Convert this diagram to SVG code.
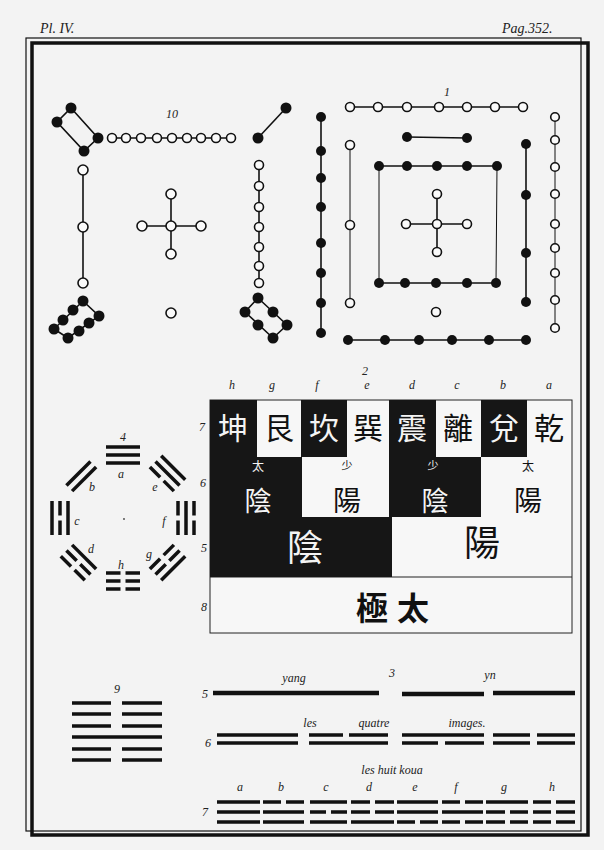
<svg xmlns="http://www.w3.org/2000/svg" width="604" height="850" viewBox="0 0 604 850">
<style>
.w{fill:#fafafa;stroke:#111;stroke-width:1.6}
.b{fill:#111}
.ln{stroke:#111;stroke-width:1.6;fill:none}
.lt{stroke:#111;stroke-width:1;fill:none}
.lab{font-family:"Liberation Serif",serif;font-style:italic;font-size:12px;fill:#222;text-anchor:middle}
.hdr{font-family:"Liberation Serif",serif;font-style:italic;font-size:14px;fill:#222}
.bar{stroke:#111;stroke-width:3.5}
.cw{font-family:"Noto Sans CJK TC","Noto Sans CJK SC",sans-serif;fill:#f4f4f4;text-anchor:middle}
.ck{font-family:"Noto Sans CJK TC","Noto Sans CJK SC",sans-serif;fill:#111;text-anchor:middle}
.cell{fill:#161616}
</style>
<defs>
<g id="tri-l"><line x1="-17" y1="0" x2="17" y2="0" class="bar"/></g>
<g id="tri-b"><line x1="-17" y1="0" x2="-2.5" y2="0" class="bar"/><line x1="2.5" y1="0" x2="17" y2="0" class="bar"/></g>
</defs>
<rect x="0" y="0" width="604" height="850" fill="#f3f3f3"/>
<text class="hdr" x="40" y="33">Pl. IV.</text>
<text class="hdr" x="502" y="33">Pag.352.</text>
<g id="frame">
<rect x="26" y="38" width="555" height="793" fill="none" stroke="#111" stroke-width="1.2"/>
<rect x="32" y="43" width="556" height="792" fill="none" stroke="#111" stroke-width="3.5"/>
</g>

<!-- Figure 10 -->
<g id="fig10">
<text class="lab" x="172" y="118">10</text>
<g id="f10-tl">
<polygon points="71,108 98,138 84,151 57,122" class="ln" stroke-width="2"/>
<circle cx="71" cy="108" r="5.5" class="b"/><circle cx="98" cy="138" r="5.5" class="b"/>
<circle cx="84" cy="151" r="5.5" class="b"/><circle cx="57" cy="122" r="5.5" class="b"/>
</g>
<g id="f10-top">
<line x1="112" y1="138" x2="231" y2="138" class="ln"/>
<circle cx="112" cy="138" r="4.5" class="w"/><circle cx="126" cy="138" r="4.5" class="w"/><circle cx="141" cy="138" r="4.5" class="w"/>
<circle cx="157" cy="138" r="4.5" class="w"/><circle cx="172" cy="138" r="4.5" class="w"/><circle cx="187" cy="138" r="4.5" class="w"/>
<circle cx="201" cy="138" r="4.5" class="w"/><circle cx="216" cy="138" r="4.5" class="w"/><circle cx="231" cy="138" r="4.5" class="w"/>
</g>
<g id="f10-tr">
<line x1="258" y1="138" x2="286" y2="108" class="ln" stroke-width="2"/>
<circle cx="258" cy="138" r="5.5" class="b"/><circle cx="286" cy="108" r="5.5" class="b"/>
</g>
<g id="f10-left">
<line x1="83" y1="170" x2="83" y2="283" class="ln"/>
<circle cx="83" cy="170" r="5" class="w"/><circle cx="83" cy="227" r="5" class="w"/><circle cx="83" cy="283" r="5" class="w"/>
</g>
<g id="f10-center">
<line x1="142" y1="226" x2="201" y2="226" class="ln"/><line x1="171" y1="194" x2="171" y2="254" class="ln"/>
<circle cx="171" cy="226" r="5" class="w"/><circle cx="171" cy="194" r="5" class="w"/><circle cx="171" cy="254" r="5" class="w"/>
<circle cx="142" cy="226" r="5" class="w"/><circle cx="201" cy="226" r="5" class="w"/>
</g>
<g id="f10-bottom"><circle cx="171" cy="313" r="5" class="w"/></g>
<g id="f10-right">
<line x1="259" y1="165" x2="259" y2="283" class="ln"/>
<circle cx="259" cy="165" r="4.5" class="w"/><circle cx="259" cy="186" r="4.5" class="w"/><circle cx="259" cy="207" r="4.5" class="w"/>
<circle cx="259" cy="227" r="4.5" class="w"/><circle cx="259" cy="247" r="4.5" class="w"/><circle cx="259" cy="266" r="4.5" class="w"/>
<circle cx="259" cy="283" r="4.5" class="w"/>
</g>
<g id="f10-bl">
<polygon points="83,301 99,316 68,338 54,329" class="ln" stroke-width="2"/>
<circle cx="83" cy="301" r="5.5" class="b"/><circle cx="73" cy="310" r="5.5" class="b"/><circle cx="63" cy="320" r="5.5" class="b"/><circle cx="54" cy="329" r="5.5" class="b"/>
<circle cx="99" cy="316" r="5.5" class="b"/><circle cx="89" cy="323" r="5.5" class="b"/><circle cx="79" cy="331" r="5.5" class="b"/><circle cx="68" cy="338" r="5.5" class="b"/>
</g>
<g id="f10-br">
<polygon points="258,298 287,325 273,338 245,312" class="ln" stroke-width="2"/>
<circle cx="258" cy="298" r="5.5" class="b"/><circle cx="273" cy="312" r="5.5" class="b"/><circle cx="287" cy="325" r="5.5" class="b"/>
<circle cx="273" cy="338" r="5.5" class="b"/><circle cx="258" cy="325" r="5.5" class="b"/><circle cx="245" cy="312" r="5.5" class="b"/>
</g>
</g>

<!-- Figure 1 -->
<g id="fig1">
<text class="lab" x="447" y="96">1</text>
<g id="f1-top">
<line x1="350" y1="107" x2="523" y2="107" class="ln"/>
<circle cx="350" cy="107" r="4.5" class="w"/><circle cx="378" cy="107" r="4.5" class="w"/><circle cx="407" cy="107" r="4.5" class="w"/>
<circle cx="439" cy="107" r="4.5" class="w"/><circle cx="467" cy="107" r="4.5" class="w"/><circle cx="495" cy="107" r="4.5" class="w"/>
<circle cx="523" cy="107" r="4.5" class="w"/>
</g>
<g id="f1-left">
<line x1="321" y1="117" x2="321" y2="333" class="ln" stroke-width="2"/>
<circle cx="321" cy="117" r="5" class="b"/><circle cx="321" cy="151" r="5" class="b"/><circle cx="321" cy="178" r="5" class="b"/>
<circle cx="321" cy="207" r="5" class="b"/><circle cx="321" cy="243" r="5" class="b"/><circle cx="321" cy="273" r="5" class="b"/>
<circle cx="321" cy="303" r="5" class="b"/><circle cx="321" cy="333" r="5" class="b"/>
</g>
<g id="f1-left2">
<line x1="350" y1="145" x2="350" y2="303" class="lt"/>
<circle cx="350" cy="145" r="4.5" class="w"/><circle cx="350" cy="225" r="4.5" class="w"/><circle cx="350" cy="303" r="4.5" class="w"/>
</g>
<g id="f1-pair">
<line x1="407" y1="137" x2="467" y2="138" class="ln" stroke-width="2"/>
<circle cx="407" cy="137" r="5" class="b"/><circle cx="467" cy="138" r="5" class="b"/>
</g>
<g id="f1-square">
<line x1="379" y1="166" x2="497" y2="166" class="ln" stroke-width="2"/>
<line x1="379" y1="283" x2="496" y2="283" class="ln" stroke-width="2"/>
<line x1="379" y1="166" x2="379" y2="283" class="lt"/>
<line x1="497" y1="166" x2="496" y2="283" class="lt"/>
<circle cx="379" cy="166" r="5" class="b"/><circle cx="407" cy="166" r="5" class="b"/><circle cx="437" cy="166" r="5" class="b"/>
<circle cx="467" cy="166" r="5" class="b"/><circle cx="497" cy="166" r="5" class="b"/>
<circle cx="379" cy="283" r="5" class="b"/><circle cx="405" cy="283" r="5" class="b"/><circle cx="436" cy="283" r="5" class="b"/>
<circle cx="467" cy="283" r="5" class="b"/><circle cx="496" cy="283" r="5" class="b"/>
</g>
<g id="f1-center">
<line x1="406" y1="224" x2="467" y2="224" class="ln"/><line x1="437" y1="194" x2="437" y2="252" class="ln"/>
<circle cx="437" cy="224" r="4.5" class="w"/><circle cx="437" cy="194" r="4.5" class="w"/><circle cx="437" cy="252" r="4.5" class="w"/>
<circle cx="406" cy="224" r="4.5" class="w"/><circle cx="467" cy="224" r="4.5" class="w"/>
</g>
<g id="f1-bottomdot"><circle cx="436" cy="312" r="4.5" class="w"/></g>
<g id="f1-right">
<line x1="526" y1="144" x2="526" y2="302" class="ln" stroke-width="2"/>
<circle cx="526" cy="144" r="5" class="b"/><circle cx="526" cy="195" r="5" class="b"/><circle cx="526" cy="253" r="5" class="b"/><circle cx="526" cy="302" r="5" class="b"/>
</g>
<g id="f1-right2">
<line x1="555" y1="117" x2="555" y2="328" class="lt"/>
<circle cx="555" cy="117" r="4.3" class="w"/><circle cx="555" cy="140" r="4.3" class="w"/><circle cx="555" cy="167" r="4.3" class="w"/>
<circle cx="555" cy="194" r="4.3" class="w"/><circle cx="555" cy="224" r="4.3" class="w"/><circle cx="555" cy="248" r="4.3" class="w"/>
<circle cx="555" cy="273" r="4.3" class="w"/><circle cx="555" cy="300" r="4.3" class="w"/><circle cx="555" cy="328" r="4.3" class="w"/>
</g>
<g id="f1-bottom">
<line x1="348" y1="340" x2="526" y2="340" class="ln" stroke-width="2"/>
<circle cx="348" cy="340" r="5" class="b"/><circle cx="385" cy="340" r="5" class="b"/><circle cx="419" cy="340" r="5" class="b"/>
<circle cx="452" cy="340" r="5" class="b"/><circle cx="489" cy="340" r="5" class="b"/><circle cx="526" cy="340" r="5" class="b"/>
</g>
</g>

<!-- Figure 2: table -->
<g id="fig2">
<text class="lab" x="365" y="375" font-size="9">2</text>
<g id="col-letters">
<text class="lab" x="232" y="389">h</text><text class="lab" x="272" y="389">g</text><text class="lab" x="317" y="389">f</text>
<text class="lab" x="367" y="389">e</text><text class="lab" x="412" y="389">d</text><text class="lab" x="457" y="389">c</text>
<text class="lab" x="503" y="389">b</text><text class="lab" x="549" y="389">a</text>
</g>
<g id="row-labels">
<text class="lab" x="202" y="431">7</text><text class="lab" x="203" y="487">6</text>
<text class="lab" x="204" y="552">5</text><text class="lab" x="204" y="611">8</text>
</g>
<rect x="210" y="400" width="362" height="233" fill="#f7f7f7" stroke="#222" stroke-width="1"/>
<line x1="210" y1="577" x2="572" y2="577" stroke="#222" stroke-width="1.2"/>
<g id="row7">
<rect x="210" y="400" width="47" height="57" class="cell"/>
<rect x="301" y="400" width="46" height="57" class="cell"/>
<rect x="389" y="400" width="47" height="57" class="cell"/>
<rect x="481" y="400" width="46" height="57" class="cell"/>
<text class="cw" x="233" y="439" font-size="30">坤</text>
<text class="ck" x="279" y="439" font-size="30">艮</text>
<text class="cw" x="324" y="439" font-size="30">坎</text>
<text class="ck" x="368" y="439" font-size="30">巽</text>
<text class="cw" x="412" y="439" font-size="30">震</text>
<text class="ck" x="458" y="439" font-size="30">離</text>
<text class="cw" x="504" y="439" font-size="30">兌</text>
<text class="ck" x="549" y="439" font-size="30">乾</text>
</g>
<g id="row6">
<rect x="210" y="457" width="92" height="60" class="cell"/>
<rect x="389" y="457" width="92" height="60" class="cell"/>
<text class="cw" x="258" y="471" font-size="12">太</text>
<text class="cw" x="258" y="511" font-size="27">陰</text>
<text class="ck" x="347" y="470" font-size="11">少</text>
<text class="ck" x="347" y="511" font-size="28">陽</text>
<text class="cw" x="433" y="470" font-size="11">少</text>
<text class="cw" x="435" y="511" font-size="27">陰</text>
<text class="ck" x="528" y="471" font-size="12">太</text>
<text class="ck" x="528" y="511" font-size="28">陽</text>
</g>
<g id="row5">
<rect x="210" y="517" width="182" height="60" class="cell"/>
<text class="cw" x="305" y="561" font-size="36">陰</text>
<text class="ck" x="482" y="556" font-size="36">陽</text>
</g>
<g id="row8">
<text class="ck" x="372" y="620" font-size="32" font-weight="bold">極</text>
<text class="ck" x="413" y="620" font-size="32" font-weight="bold">太</text>
</g>
</g>

<!-- Figure 4: circle of trigrams -->
<g id="fig4">
<text class="lab" x="123" y="441">4</text>
<circle cx="124" cy="519" r="0.9" fill="#444"/>
<g id="tri-a"><use href="#tri-l" x="123" y="447"/><use href="#tri-l" x="123" y="455"/><use href="#tri-l" x="123" y="463"/></g>
<g id="tri-e" transform="rotate(45 123 518)"><use href="#tri-l" x="123" y="447"/><use href="#tri-l" x="123" y="455"/><use href="#tri-b" x="123" y="463"/></g>
<g id="tri-f" transform="rotate(90 123 518)"><use href="#tri-b" x="123" y="447"/><use href="#tri-l" x="123" y="455"/><use href="#tri-b" x="123" y="463"/></g>
<g id="tri-g" transform="rotate(135 123 518)"><use href="#tri-l" x="123" y="447"/><use href="#tri-b" x="123" y="455"/><use href="#tri-b" x="123" y="463"/></g>
<g id="tri-h" transform="rotate(180 123 518)"><use href="#tri-b" x="123" y="447"/><use href="#tri-b" x="123" y="455"/><use href="#tri-b" x="123" y="463"/></g>
<g id="tri-d" transform="rotate(225 123 518)"><use href="#tri-b" x="123" y="447"/><use href="#tri-b" x="123" y="455"/><use href="#tri-l" x="123" y="463"/></g>
<g id="tri-c" transform="rotate(270 123 518)"><use href="#tri-l" x="123" y="447"/><use href="#tri-b" x="123" y="455"/><use href="#tri-l" x="123" y="463"/></g>
<g id="tri-b" transform="rotate(315 123 518)"><use href="#tri-b" x="123" y="447"/><use href="#tri-l" x="123" y="455"/><use href="#tri-l" x="123" y="463"/></g>
<text class="lab" x="121" y="478">a</text><text class="lab" x="92" y="491">b</text><text class="lab" x="155" y="491">e</text>
<text class="lab" x="77" y="525">c</text><text class="lab" x="164" y="525">f</text>
<text class="lab" x="91" y="553">d</text><text class="lab" x="121" y="569">h</text><text class="lab" x="149" y="558">g</text>
</g>

<!-- Figure 9: hexagram -->
<g id="fig9">
<text class="lab" x="117" y="693">9</text>
<g class="bar">
<line x1="72" y1="703" x2="111" y2="703"/><line x1="122" y1="703" x2="162" y2="703"/>
<line x1="72" y1="714" x2="111" y2="714"/><line x1="122" y1="714" x2="162" y2="714"/>
<line x1="72" y1="726" x2="111" y2="726"/><line x1="122" y1="726" x2="162" y2="726"/>
<line x1="72" y1="737" x2="162" y2="737"/>
<line x1="72" y1="749" x2="111" y2="749"/><line x1="122" y1="749" x2="162" y2="749"/>
<line x1="72" y1="760" x2="111" y2="760"/><line x1="122" y1="760" x2="162" y2="760"/>
</g>
</g>

<!-- Figure 3 -->
<g id="fig3">
<text class="lab" x="392" y="677">3</text>
<g id="f3-row5">
<text class="lab" x="205" y="698">5</text>
<text class="lab" x="294" y="682">yang</text>
<text class="lab" x="490" y="679">yn</text>
<g stroke="#111" stroke-width="4.5">
<line x1="213" y1="693" x2="379" y2="693"/>
<line x1="402" y1="694" x2="484" y2="694"/><line x1="493" y1="693" x2="575" y2="693"/>
</g>
</g>
<g id="f3-row6">
<text class="lab" x="208" y="747">6</text>
<text class="lab" x="310" y="727">les</text><text class="lab" x="374" y="727">quatre</text><text class="lab" x="467" y="727">images.</text>
<g stroke="#111" stroke-width="3.5">
<line x1="217" y1="735" x2="298" y2="735"/><line x1="217" y1="743" x2="298" y2="743"/>
<line x1="309" y1="735" x2="343" y2="735"/><line x1="349" y1="735" x2="388" y2="735"/><line x1="309" y1="743" x2="388" y2="743"/>
<line x1="402" y1="735" x2="484" y2="735"/><line x1="402" y1="743" x2="438" y2="743"/><line x1="445" y1="743" x2="484" y2="743"/>
<line x1="493" y1="735" x2="530" y2="735"/><line x1="537" y1="735" x2="575" y2="735"/><line x1="493" y1="743" x2="530" y2="743"/><line x1="537" y1="743" x2="575" y2="743"/>
</g>
</g>
<g id="f3-row7">
<text class="lab" x="205" y="816">7</text>
<text class="lab" x="392" y="774">les huit koua</text>
<text class="lab" x="240" y="791">a</text><text class="lab" x="281" y="791">b</text><text class="lab" x="326" y="791">c</text>
<text class="lab" x="369" y="791">d</text><text class="lab" x="415" y="791">e</text><text class="lab" x="456" y="791">f</text>
<text class="lab" x="504" y="791">g</text><text class="lab" x="552" y="791">h</text>
<g stroke="#111" stroke-width="3.5">
<line x1="217" y1="802" x2="260" y2="802"/><line x1="217" y1="812" x2="260" y2="812"/><line x1="217" y1="822" x2="260" y2="822"/>
<line x1="263" y1="802" x2="281" y2="802"/><line x1="286" y1="802" x2="304" y2="802"/><line x1="263" y1="812" x2="304" y2="812"/><line x1="263" y1="822" x2="304" y2="822"/>
<line x1="310" y1="802" x2="347" y2="802"/><line x1="310" y1="812" x2="326" y2="812"/><line x1="331" y1="812" x2="347" y2="812"/><line x1="310" y1="822" x2="347" y2="822"/>
<line x1="351" y1="802" x2="370" y2="802"/><line x1="375" y1="802" x2="394" y2="802"/><line x1="351" y1="812" x2="370" y2="812"/><line x1="375" y1="812" x2="394" y2="812"/><line x1="351" y1="822" x2="394" y2="822"/>
<line x1="397" y1="802" x2="438" y2="802"/><line x1="397" y1="812" x2="438" y2="812"/><line x1="397" y1="822" x2="415" y2="822"/><line x1="420" y1="822" x2="438" y2="822"/>
<line x1="442" y1="802" x2="460" y2="802"/><line x1="465" y1="802" x2="483" y2="802"/><line x1="442" y1="812" x2="483" y2="812"/><line x1="442" y1="822" x2="460" y2="822"/><line x1="465" y1="822" x2="483" y2="822"/>
<line x1="486" y1="802" x2="528" y2="802"/><line x1="486" y1="812" x2="505" y2="812"/><line x1="510" y1="812" x2="528" y2="812"/><line x1="486" y1="822" x2="505" y2="822"/><line x1="510" y1="822" x2="528" y2="822"/>
<line x1="533" y1="802" x2="551" y2="802"/><line x1="556" y1="802" x2="575" y2="802"/><line x1="533" y1="812" x2="551" y2="812"/><line x1="556" y1="812" x2="575" y2="812"/><line x1="533" y1="822" x2="551" y2="822"/><line x1="556" y1="822" x2="575" y2="822"/>
</g>
</g>
</g>
</svg>
